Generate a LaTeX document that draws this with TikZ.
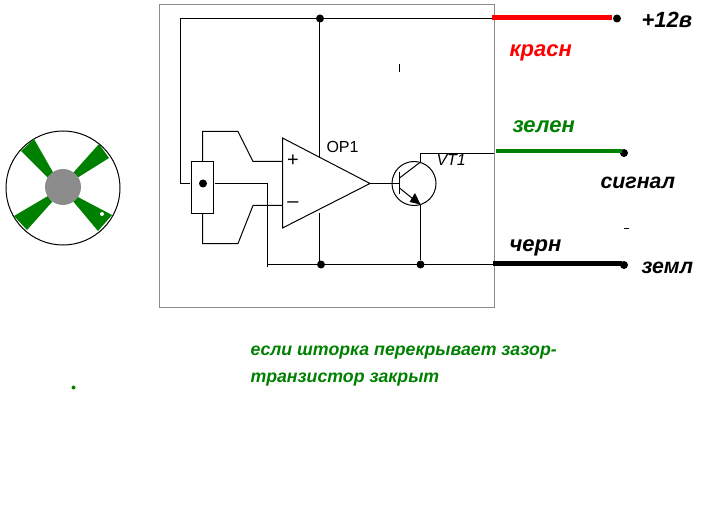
\documentclass[tikz,border=0pt]{standalone}
\usepackage{fontspec}
\setmainfont{Liberation Sans}
\definecolor{wirered}{RGB}{255,0,0}
\definecolor{wiregreen}{RGB}{0,128,0}
\definecolor{boxgray}{RGB}{140,140,140}
\tikzset{
  junction/.style={circle,fill=black,inner sep=0pt,minimum size=6pt},
  bus/.style={line width=3.5pt},
  label/.style={anchor=base west,inner sep=0pt,font=\bfseries\itshape\fontsize{#1}{#1}\selectfont},
  label/.default=16
}
\begin{document}
\begin{tikzpicture}[x=0.75pt,y=-0.75pt,line width=0.75pt]
\useasboundingbox (0,0) rectangle (709,520);
% housing
\draw[boxgray] (159.5,4.5) rectangle (494.5,307.5);
% shutter wheel
\draw (63,188) circle (57);
\fill[wiregreen] (21,151)--(34,139)--(54,174)--(48,178)--cycle;
\fill[wiregreen] (99,144)--(109,158)--(77,178)--(73,173)--cycle;
\fill[wiregreen] (112,215)--(98,231)--(72,200)--(76,196)--cycle;
\fill[wiregreen] (14,216)--(27,230)--(52,202)--(48,196)--cycle;
\fill[white] (102,214) circle (2);
\fill[black!45] (63,187) circle (18);
\node[circle,fill=wiregreen,inner sep=0pt,minimum size=3pt] (mark) at (73.5,387.5) {};
% amplifier
\node[junction] (potmid) at (203,183.5) {};
\draw (191.5,161.5) rectangle (213.5,213.5);
\coordinate (pottop) at (202.5,161.5);
\coordinate (potbot) at (202.5,213.5);
\coordinate (opplus) at (282.5,161.5);
\coordinate (opminus) at (282.5,205.5);
\coordinate (opout) at (370,183.5);
\draw (282.5,138)--(282.5,228)--(opout)--cycle;
\node[inner sep=0pt,font=\fontsize{15}{15}\selectfont] (plus) at (293,161) {+};
\node[inner sep=0pt,font=\fontsize{15}{15}\selectfont] (minus) at (293,205) {--};
\draw (pottop)--(202.5,131.5)--(238,131.5)--(253,161.5)--(opplus);
\draw (potbot)--(202.5,243.5)--(238,243.5)--(253,205.5)--(opminus);
\node[anchor=base west,inner sep=0pt,font=\fontsize{12}{12}\selectfont] (opname) at (326,153) {OP1};
% transistor
\node[draw,circle,inner sep=0pt,minimum size=33pt] (vt) at (414,183.5) {};
\coordinate (base) at (399.5,183.5);
\coordinate (coll) at (420.5,162);
\coordinate (emit) at (420.5,205);
\draw (opout)--(base);
\draw (399.5,172)--(399.5,194);
\draw (399.5,178)--(coll);
\draw (399.5,188)--(emit);
\fill (420.5,204.5)--(409.5,202)--(415,193)--cycle;
\node[anchor=base west,inner sep=0pt,font=\itshape\fontsize{12}{12}\selectfont] (vtname) at (436,166) {VT1};
% wires
\node[junction] (jtop) at (320,18.5) {};
\node[junction] (jop) at (321,264.5) {};
\node[junction] (jem) at (420.5,264.5) {};
\coordinate (edgered) at (494,18.5);
\coordinate (edgegreen) at (494,153.5);
\coordinate (edgeblack) at (494,264.5);
\draw (190,183.5)--(180.5,183.5)--(180.5,18.5)--(edgered);
\draw (319.5,18.5)--(319.5,157);
\draw (319.5,213)--(319.5,264.5);
\draw (215,183.5)--(267.5,183.5)--(267.5,267);
\draw (267.5,264.5)--(edgeblack);
\draw (coll)--(420.5,153.5)--(edgegreen);
\draw (emit)--(jem);
% terminals
\node[junction] (tred) at (617,18.5) {};
\node[junction] (tgreen) at (624,153) {};
\node[junction] (tblack) at (624,265) {};
\coordinate (busred) at (492,17.5);
\coordinate (busgreen) at (496,151.5);
\coordinate (busblack) at (493,263.5);
\draw[bus,wirered] (busred)--(612,17.5);
\draw[bus,wiregreen,line width=3pt] (busgreen)--(622,151.5);
\draw[bus] (busblack)--(622,263.5);
% stray marks
\draw (399.5,64)--(399.5,72);
\draw (624,228.5)--(629,228.5);
% labels
\node[label=16.5,text=wirered] (lred) at (509,56.5) {красн};
\node[label=16.5,text=wiregreen] (lgreen) at (512,133) {зелен};
\node[label=16.5] (lblack) at (509,251) {черн};
\node[label=16.5] (l12) at (641,28) {+12в};
\node[label=16] (lsig) at (600,189) {сигнал};
\node[label=16] (lgnd) at (641,273) {земл};
\node[label=13.3,text=wiregreen] (note1) at (250,355) {если шторка перекрывает зазор-};
\node[label=13.3,text=wiregreen] (note2) at (250,382) {транзистор закрыт};
\end{tikzpicture}
\end{document}
